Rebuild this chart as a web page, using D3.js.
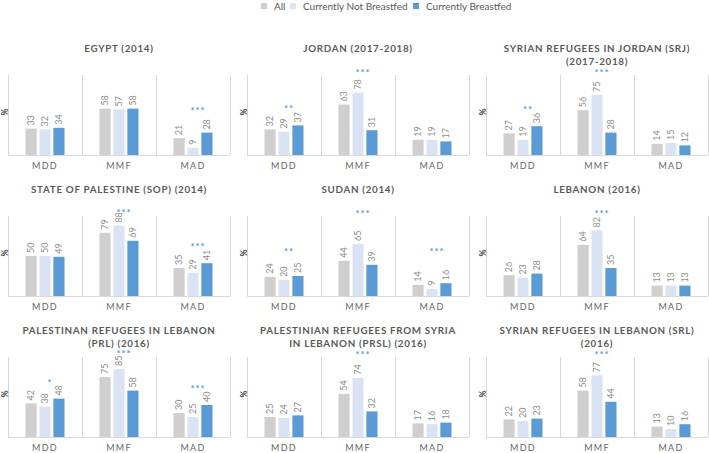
<!DOCTYPE html>
<html>
<head>
<meta charset="utf-8">
<title>Breastfeeding and diet indicators</title>
<script src="https://d3js.org/d3.v7.min.js"></script>
<style>
	body { margin: 0; background: #fff; font-family: Lato, "Open Sans", sans-serif; }
	.title { font-weight: 700; fill: #595959; letter-spacing: 0.7px; }
	.cat { fill: #666; letter-spacing: 1.3px; }
	.val { fill: #8c8c8c; }
	.grid { stroke: #d9d9d9; stroke-width: 1; shape-rendering: crispEdges; }
</style>
</head>
<body>
<script>
// categories and series
var categories = ["MDD", "MMF", "MAD"];
var series = ["All", "Currently Not Breastfed", "Currently Breastfed"];
var colors = ["#d0cece", "#dae3f3", "#5b9bd5"];

var titles = [
	["EGYPT  (2014)"],
	["JORDAN (2017-2018)"],
	["SYRIAN REFUGEES IN JORDAN (SRJ)", "(2017-2018)"],
	["STATE OF PALESTINE (SOP) (2014)"],
	["SUDAN (2014)"],
	["LEBANON (2016)"],
	["PALESTINAN REFUGEES IN LEBANON", "(PRL) (2016)"],
	["PALESTINIAN REFUGEES FROM SYRIA", "IN LEBANON (PRSL) (2016)"],
	["SYRIAN REFUGEES IN LEBANON (SRL)", "(2016)"]
];

// values per panel, each as [MDD, MMF, MAD]
var allValues = [
	[33, 58, 21], [32, 63, 19], [27, 56, 14],
	[50, 79, 35], [24, 44, 14], [26, 64, 13],
	[42, 75, 30], [25, 54, 17], [22, 58, 13]
];
var notBfValues = [
	[32, 57, 9], [29, 78, 19], [19, 75, 15],
	[50, 88, 29], [20, 65, 9], [23, 82, 13],
	[38, 85, 25], [24, 74, 16], [20, 77, 10]
];
var bfValues = [
	[34, 58, 28], [37, 31, 17], [36, 28, 12],
	[49, 69, 41], [25, 39, 16], [28, 35, 13],
	[48, 58, 40], [27, 32, 18], [23, 44, 16]
];
var stars = [
	["", "", "***"], ["**", "***", ""], ["**", "***", ""],
	["", "***", "***"], ["**", "***", "***"], ["", "***", ""],
	["*", "***", "***"], ["", "***", ""], ["", "***", ""]
];

var width = 709, height = 453;
var svg = d3.select("body").append("svg")
	.attr("width", width)
	.attr("height", height);

// legend
var legend = svg.append("g").attr("transform", "translate(261,6)");
var legX = [0, 29, 152];
series.forEach(function(s, i) {
	var lg = legend.append("g").attr("transform", "translate(" + legX[i] + ",0)");
	lg.append("rect").attr("x", 0).attr("y", -3).attr("width", 6).attr("height", 6).attr("fill", colors[i]);
	lg.append("text").attr("x", 13).attr("y", 0).attr("dy", "0.35em")
		.attr("font-size", 10).attr("fill", "#595959").text(s);
});

var panelW = 222, plotH = 80;
var colX = [8, 247, 486];
var rowTop = [75, 216, 357];

var y = d3.scaleLinear().domain([0, 100]).range([plotH, 0]);
var x0 = d3.scaleBand().domain(categories).range([0, panelW]);
var x1 = d3.scaleBand().domain(d3.range(3)).range([-19.5, 19.5]).paddingInner(0.2);

titles.forEach(function(t, p) {
	var g = svg.append("g")
		.attr("transform", "translate(" + colX[p % 3] + "," + rowTop[Math.floor(p / 3)] + ")");

	// title
	var tt = g.append("text").attr("class", "title").attr("font-size", 9.8)
		.attr("text-anchor", "middle").attr("x", panelW / 2).attr("y", -23.5);
	t.forEach(function(line, i) {
		tt.append("tspan").attr("x", panelW / 2).attr("dy", i ? 13.5 : 0).text(line);
	});

	// grid lines
	g.append("line").attr("class", "grid").attr("x1", 0).attr("x2", panelW)
		.attr("y1", y(0) + 0.5).attr("y2", y(0) + 0.5);
	g.selectAll(".vgrid").data(d3.range(4)).enter().append("line")
		.attr("class", "grid")
		.attr("x1", function(d) { return Math.round(d * x0.step()) + 0.5; })
		.attr("x2", function(d) { return Math.round(d * x0.step()) + 0.5; })
		.attr("y1", 0).attr("y2", y(0));

	// % label
	g.append("text").attr("transform", "translate(-3," + (plotH / 2 - 3) + ") rotate(-90)")
		.attr("text-anchor", "middle").attr("dy", "0.35em").attr("font-size", 8.5).attr("font-weight", 700)
		.attr("fill", "#404040").text("%");

	var vals = [allValues[p], notBfValues[p], bfValues[p]];

	categories.forEach(function(c, ci) {
		var cx = x0(c) + x0.bandwidth() / 2;
		var cg = g.append("g").attr("transform", "translate(" + cx + ",0)");
		var data = vals.map(function(v, si) { return { s: si, v: v[ci] }; });

		cg.selectAll("rect").data(data).enter().append("rect")
			.attr("x", function(d) { return x1(d.s); })
			.attr("width", x1.bandwidth())
			.attr("y", function(d) { return y(d.v); })
			.attr("height", function(d) { return y(0) - y(d.v); })
			.attr("fill", function(d) { return colors[d.s]; });

		cg.selectAll(".val").data(data).enter().append("text")
			.attr("class", "val").attr("font-size", 9)
			.attr("transform", function(d) {
				return "translate(" + (x1(d.s) + x1.bandwidth() / 2) + "," + (y(d.v) - 3) + ") rotate(-90)";
			})
			.attr("dy", "0.35em")
			.text(function(d) { return d.v; });

		// significance stars, above the labels but not into the title
		if (stars[p][ci]) {
			var mx = d3.max(data, function(d) { return d.v; });
			var labelTop = y(mx) - 3 - String(mx).length * 5.2;
			var sy = Math.max(Math.min(y(ci === 1 ? 105 : 58), labelTop - 5), y(106.5));
			cg.append("text").attr("x", 5).attr("y", sy).attr("dy", "0.56em")
				.attr("text-anchor", "middle").attr("font-size", 9.5).attr("font-weight", 700)
				.attr("letter-spacing", "1px").attr("fill", "#5b9bd5")
				.text(stars[p][ci]);
		}

		// category label
		g.append("text").attr("class", "cat").attr("font-size", 9)
			.attr("text-anchor", "middle").attr("x", cx).attr("y", y(0) + 14)
			.text(c);
	});
});
</script>
</body>
</html>
